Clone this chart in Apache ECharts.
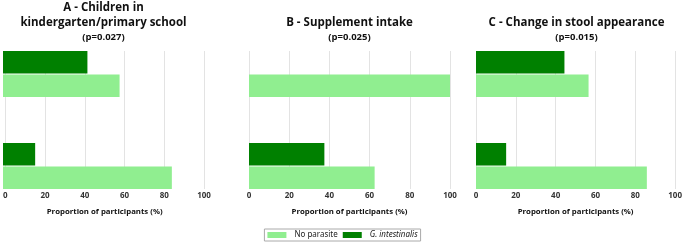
<!DOCTYPE html>
<html>
<head>
<meta charset="utf-8">
<script src="https://cdn.jsdelivr.net/npm/echarts@6/dist/echarts.min.js"></script>
<style>
	html, body { margin: 0; padding: 0; background: #fff; }
	#chart { width: 685px; height: 243px; }
</style>
</head>
<body>
<div id="chart"></div>
<script>
var categories = ["Yes", "No"];
var seriesNames = ["No parasite", "G. intestinalis"];
var xTicks = [0, 20, 40, 60, 80, 100];

var panelTitles = ["A - Children in\nkindergarten/primary school", "B - Supplement intake", "C - Change in stool appearance"];
var pValues = ["(p=0.027)", "(p=0.025)", "(p=0.015)"];

var noParasiteA = [58, 84];
var giardiaA = [42, 16];
var noParasiteB = [100, 62.5];
var giardiaB = [0, 37.5];
var noParasiteC = [56, 85];
var giardiaC = [44, 15];

window.onload = function() {
	var lefts = [3, 249, 476];
	var plotWidth = 201;
	var noParasite = [noParasiteA, noParasiteB, noParasiteC];
	var giardia = [giardiaA, giardiaB, giardiaC];

	var grid = [], xAxis = [], yAxis = [], series = [], title = [];

	for (var i = 0; i < 3; i++) {
		// bar grid: two category bands, bars fill half of each band
		grid.push({ left : lefts[i], width : plotWidth, top : 28, height : 184 });
		xAxis.push({ gridIndex : i, type : "value", min : 0, max : 100, show : false });
		yAxis.push({ gridIndex : i, type : "category", data : categories, inverse : true, show : false });

		series.push({
			name : seriesNames[1], type : "bar", xAxisIndex : i, yAxisIndex : i,
			data : giardia[i], barCategoryGap : "50%", barGap : "4%",
			itemStyle : { color : "#008000" }, silent : true
		});
		series.push({
			name : seriesNames[0], type : "bar", xAxisIndex : i, yAxisIndex : i,
			data : noParasite[i], barCategoryGap : "50%", barGap : "4%",
			itemStyle : { color : "#90EE90" }, silent : true
		});

		title.push({
			text : panelTitles[i],
			subtext : pValues[i],
			left : lefts[i] + plotWidth / 2,
			textAlign : "center",
			top : i == 0 ? 0 : 15,
			padding : 0,
			itemGap : 1,
			textStyle : { fontFamily : "Open Sans", fontSize : 11.5, fontWeight : "bold", color : "#111", lineHeight : 15 },
			subtextStyle : { fontFamily : "Open Sans", fontSize : 9.5, fontWeight : "bold", color : "#111", lineHeight : 12 }
		});
	}

	for (var j = 0; j < 3; j++) {
		// axis grid: gridlines and tick labels only
		grid.push({ left : lefts[j], width : plotWidth, top : 51, height : 138 });
		xAxis.push({
			gridIndex : 3 + j, type : "value", min : 0, max : 100, interval : 20,
			name : "Proportion of participants (%)",
			nameLocation : "middle", nameGap : 19,
			nameTextStyle : { fontFamily : "Open Sans", fontSize : 7.8, fontWeight : "bold", color : "#111" },
			axisLine : { show : false },
			axisTick : { show : false },
			axisLabel : { fontFamily : "Open Sans", fontSize : 8, fontWeight : "bold", color : "#333", margin : 3 },
			splitLine : { show : true, lineStyle : { color : "#e3e3e3", width : 1 } }
		});
		yAxis.push({ gridIndex : 3 + j, type : "value", min : 0, max : 1, show : false });
	}

	var myChart = echarts.init(document.getElementById("chart"), null, { renderer : "canvas" });
	myChart.setOption({
		backgroundColor : "#fff",
		animation : false,
		title : title,
		legend : {
			data : seriesNames,
			left : "center",
			bottom : 2,
			orient : "horizontal",
			itemWidth : 19,
			itemHeight : 6,
			itemGap : 5,
			padding : [2, 3, 2, 3],
			borderColor : "#aaa",
			borderWidth : 1,
			borderRadius : 0,
			icon : "rect",
			textStyle : {
				fontFamily : "Noto Sans", fontSize : 8, color : "#222",
				padding : [0, 0, 0, 3],
				rich : { i : { fontFamily : "Noto Sans", fontSize : 8, fontStyle : "italic", color : "#222" } }
			},
			formatter : function(name) {
				if (name == "G. intestinalis") {
					return "{i|" + name + "}";
				}
				return name;
			}
		},
		grid : grid,
		xAxis : xAxis,
		yAxis : yAxis,
		series : series
	});
}
</script>
</body>
</html>
